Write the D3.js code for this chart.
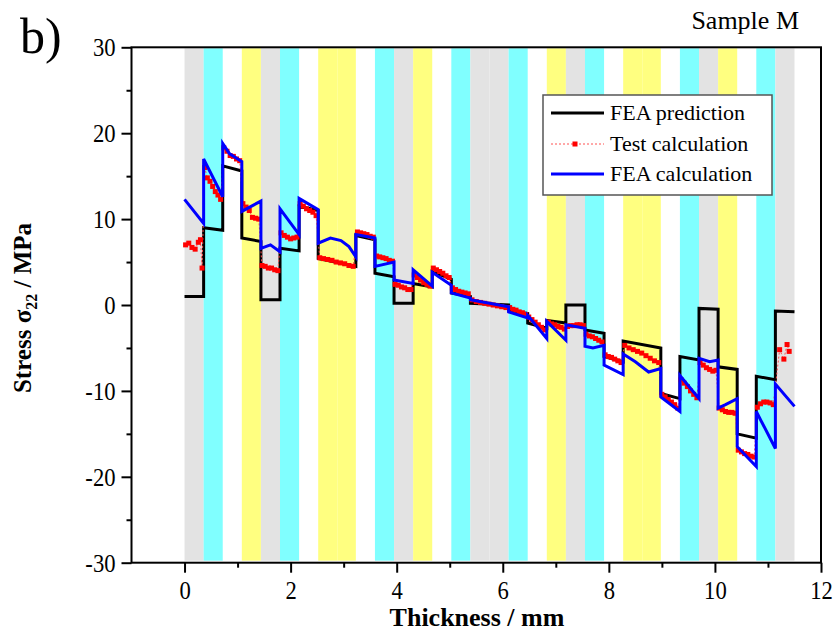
<!DOCTYPE html>
<html>
<head>
<meta charset="utf-8">
<script src="https://cdn.jsdelivr.net/npm/d3@7"></script>
<style>
  body { margin: 0; background: #fff; }
  text { font-family: "Liberation Serif", "Times New Roman", serif; }
</style>
</head>
<body>
<script>
// ply layup: 32 plies, boundaries in mm and band colour per ply
const plyBounds = [0, 0.36, 0.72, 1.08, 1.44, 1.8, 2.16, 2.52, 2.88, 3.23, 3.59, 3.95, 4.31, 4.67, 5.03,
    5.39, 5.75, 6.11, 6.47, 6.83, 7.19, 7.55, 7.91, 8.27, 8.63, 8.98, 9.34, 9.7, 10.06, 10.42, 10.78, 11.14, 11.5];
const plyTypes = ["g", "c", "w", "y", "g", "c", "w", "y", "y", "w", "c", "g", "y", "w", "c", "g",
    "g", "c", "w", "y", "g", "c", "w", "y", "y", "w", "c", "g", "y", "w", "c", "g"];

// FEA prediction (black)
const feaPrediction = [
    [0, 1.0], [0.36, 1.0], [0.36, 9.0], [0.72, 8.7], [0.72, 16.2], [1.08, 15.6],
    [1.08, 7.8], [1.44, 7.4], [1.44, 0.6], [1.8, 0.6], [1.8, 6.6], [2.16, 6.3],
    [2.16, 11.5], [2.52, 11.0], [2.52, 5.4], [3.23, 4.5], [3.23, 8.1], [3.59, 7.6],
    [3.59, 3.7], [3.95, 3.3], [3.95, 0.2], [4.31, 0.2], [4.31, 2.5], [4.67, 2.1],
    [4.67, 3.9], [5.03, 3.0], [5.03, 1.4], [5.39, 1.0], [5.39, 0.2], [6.11, 0.0],
    [6.11, -0.6], [6.47, -1.0], [6.47, -2.1], [6.83, -2.7], [6.83, -1.8], [7.19, -2.1],
    [7.19, 0.0], [7.55, 0.0], [7.55, -2.9], [7.91, -3.3], [7.91, -6.0], [8.27, -6.6],
    [8.27, -4.2], [8.98, -5.0], [8.98, -10.3], [9.34, -10.9], [9.34, -6.0], [9.7, -6.4],
    [9.7, -0.4], [10.06, -0.5], [10.06, -7.2], [10.42, -7.5], [10.42, -15.0], [10.78, -15.5],
    [10.78, -8.3], [11.14, -8.7], [11.14, -0.7], [11.5, -0.8]
];

// FEA calculation (blue)
const feaCalculation = [
    [0, 12.3], [0.36, 9.5], [0.36, 17.0], [0.72, 12.6], [0.72, 18.8], [0.85, 17.6], [1.08, 16.7],
    [1.08, 10.9], [1.44, 12.1], [1.44, 6.6], [1.62, 7.0], [1.8, 6.2], [1.8, 11.2], [2.16, 8.2],
    [2.16, 12.4], [2.52, 11.1], [2.52, 7.2], [2.75, 7.8], [2.95, 7.5], [3.1, 6.8], [3.23, 5.6],
    [3.23, 8.2], [3.59, 7.8], [3.59, 4.5], [3.95, 5.0], [3.95, 2.9], [4.31, 2.5],
    [4.31, 4.1], [4.67, 2.2], [4.67, 3.8], [5.03, 2.3], [5.03, 1.4], [5.39, 0.8],
    [5.39, 0.6], [6.11, -0.2], [6.11, -0.8], [6.47, -1.5], [6.47, -1.2], [6.83, -3.9],
    [6.83, -1.9], [7.19, -4.1], [7.19, -2.3], [7.55, -2.7], [7.55, -4.8], [7.7, -5.0], [7.91, -4.7],
    [7.91, -7.0], [8.27, -8.1], [8.27, -5.7], [8.5, -6.6], [8.75, -7.8], [8.98, -7.4],
    [8.98, -10.7], [9.34, -12.4], [9.34, -8.2], [9.7, -10.9], [9.7, -6.2], [9.9, -6.6], [10.06, -6.4],
    [10.06, -12.0], [10.2, -11.6], [10.42, -10.9], [10.42, -16.5], [10.78, -18.8],
    [10.78, -12.4], [11.14, -16.7], [11.14, -9.2], [11.5, -11.8]
];

// Test calculation (red squares)
const testCalculation = [
    [0.02, 7.0], [0.08, 7.2], [0.14, 6.7], [0.2, 6.5], [0.26, 7.3], [0.3, 7.6], [0.33, 4.3],
    [0.38, 16.0], [0.43, 14.8], [0.48, 14.4], [0.53, 13.8], [0.58, 13.2], [0.63, 12.8], [0.68, 12.3],
    [0.74, 18.3], [0.8, 17.9], [0.86, 17.4], [0.92, 17.3], [0.98, 17.0], [1.04, 16.8],
    [1.1, 11.8], [1.16, 11.4], [1.22, 11.0], [1.28, 10.2], [1.34, 10.1], [1.4, 10.0],
    [1.46, 4.6], [1.52, 4.5], [1.58, 4.3], [1.64, 4.3], [1.7, 4.1], [1.76, 4.0],
    [1.82, 8.4], [1.88, 8.1], [1.94, 7.9], [2.0, 7.7], [2.06, 7.8], [2.12, 7.9],
    [2.18, 11.8], [2.24, 11.5], [2.3, 11.2], [2.36, 11.0], [2.42, 10.8], [2.48, 10.4],
    [2.55, 5.5], [2.62, 5.4], [2.7, 5.3], [2.78, 5.2], [2.86, 5.0], [2.94, 4.9], [3.02, 4.8], [3.1, 4.6], [3.18, 4.5],
    [3.26, 8.5], [3.32, 8.4], [3.38, 8.3], [3.44, 8.2], [3.5, 8.0], [3.56, 7.9],
    [3.62, 5.7], [3.68, 5.6], [3.74, 5.5], [3.8, 5.4], [3.86, 5.2], [3.92, 5.1],
    [3.97, 2.4], [4.03, 2.3], [4.09, 2.1], [4.15, 2.0], [4.21, 1.8], [4.27, 1.8],
    [4.33, 3.5], [4.39, 3.2], [4.45, 2.9], [4.51, 2.6], [4.57, 2.4], [4.63, 2.2],
    [4.69, 4.3], [4.75, 4.1], [4.81, 3.9], [4.87, 3.7], [4.93, 3.4], [4.99, 3.2],
    [5.05, 2.0], [5.11, 1.8], [5.17, 1.6], [5.23, 1.5], [5.29, 1.4], [5.35, 1.3],
    [5.42, 0.6], [5.5, 0.4], [5.58, 0.3], [5.66, 0.2], [5.74, 0.1], [5.82, 0.0], [5.9, -0.1], [5.98, -0.2], [6.06, -0.3],
    [6.13, -0.3], [6.19, -0.5], [6.25, -0.6], [6.31, -0.8], [6.37, -0.9], [6.43, -1.1],
    [6.49, -1.4], [6.55, -1.7], [6.61, -2.0], [6.67, -2.3], [6.73, -2.6], [6.79, -2.9],
    [6.86, -2.0], [6.92, -2.2], [6.98, -2.3], [7.04, -2.5], [7.1, -2.6], [7.16, -2.8],
    [7.22, -2.5], [7.28, -2.4], [7.34, -2.4], [7.4, -2.3], [7.46, -2.3], [7.52, -2.4],
    [7.57, -3.4], [7.63, -3.6], [7.69, -3.7], [7.75, -3.9], [7.81, -4.1], [7.87, -4.3],
    [7.93, -5.8], [7.99, -6.0], [8.05, -6.1], [8.11, -6.3], [8.17, -6.5], [8.23, -6.7],
    [8.3, -4.7], [8.38, -5.0], [8.46, -5.2], [8.54, -5.4], [8.62, -5.6], [8.7, -5.9], [8.78, -6.2], [8.86, -6.5], [8.94, -6.7],
    [9.0, -10.4], [9.06, -10.7], [9.12, -11.0], [9.18, -11.3], [9.24, -11.6], [9.3, -12.0],
    [9.36, -8.7], [9.42, -9.1], [9.48, -9.5], [9.54, -10.0], [9.6, -10.4], [9.66, -10.8],
    [9.72, -6.7], [9.78, -7.0], [9.84, -7.3], [9.9, -7.5], [9.96, -7.7], [10.02, -7.6],
    [10.08, -12.0], [10.14, -12.2], [10.2, -12.4], [10.26, -12.5], [10.32, -12.5], [10.38, -12.6],
    [10.44, -16.9], [10.5, -17.1], [10.56, -17.3], [10.62, -17.4], [10.68, -17.6], [10.74, -17.7],
    [10.8, -11.9], [10.86, -11.5], [10.92, -11.3], [10.98, -11.3], [11.04, -11.4], [11.1, -11.6],
    [11.22, -5.2], [11.3, -6.3], [11.36, -4.6], [11.4, -5.4]
];

const xMajor = [0, 2, 4, 6, 8, 10, 12];
const xMinor = [1, 3, 5, 7, 9, 11];
const yMajor = [-30, -20, -10, 0, 10, 20, 30];
const yMinor = [-25, -15, -5, 5, 15, 25];

const legendItems = ["FEA prediction", "Test calculation", "FEA calculation"];

const bandColor = { g: "#e3e3e3", c: "#80ffff", y: "#ffff80", w: "none" };
const serif = "'Liberation Serif', 'Times New Roman', serif";

const width = 837, height = 632;
const svg = d3.select("body").append("svg")
    .attr("width", width)
    .attr("height", height);

const x = d3.scaleLinear().domain([-1, 12]).range([131.5, 821]);
const y = d3.scaleLinear().domain([-30, 30]).range([562.7, 47.3]);

// ply bands
svg.append("g").selectAll("rect")
    .data(plyTypes)
    .join("rect")
    .attr("x", (d, i) => x(plyBounds[i]))
    .attr("width", (d, i) => x(plyBounds[i + 1]) - x(plyBounds[i]))
    .attr("y", y(30) + 1)
    .attr("height", y(-30) - y(30) - 3)
    .attr("fill", d => bandColor[d]);

const line = d3.line().x(d => x(d[0])).y(d => y(d[1]));

svg.append("path")
    .datum(feaPrediction)
    .attr("d", line)
    .attr("fill", "none")
    .attr("stroke", "#000")
    .attr("stroke-width", 3);

svg.append("path")
    .datum(testCalculation)
    .attr("d", line)
    .attr("fill", "none")
    .attr("stroke", "#ff5050")
    .attr("stroke-width", 1)
    .attr("stroke-dasharray", "2,2");

svg.append("g").selectAll("rect")
    .data(testCalculation)
    .join("rect")
    .attr("x", d => x(d[0]) - 2.5)
    .attr("y", d => y(d[1]) - 2.5)
    .attr("width", 5)
    .attr("height", 5)
    .attr("fill", "#ff0000");

svg.append("path")
    .datum(feaCalculation)
    .attr("d", line)
    .attr("fill", "none")
    .attr("stroke", "#0000ff")
    .attr("stroke-width", 3);

// frame
svg.append("rect")
    .attr("x", x(-1)).attr("y", y(30))
    .attr("width", x(12) - x(-1)).attr("height", y(-30) - y(30))
    .attr("fill", "none").attr("stroke", "#000").attr("stroke-width", 2);

// axes (tick labels a bit condensed, like the original Times rendering)
const squeeze = 0.87;
function styleAxis(g) {
    g.attr("font-family", null);
    g.select(".domain").remove();
    g.selectAll("line").attr("stroke", "#000").attr("stroke-width", 2);
    g.selectAll("text")
        .style("font-family", serif)
        .style("font-size", "26px")
        .attr("fill", "#000")
        .attr("x", function() { return +d3.select(this).attr("x") / squeeze; })
        .attr("transform", `scale(${squeeze},1)`);
}

const tickText = d => String(d);

svg.append("g")
    .attr("transform", `translate(0,${y(-30)})`)
    .call(d3.axisBottom(x).tickValues(xMajor).tickSize(10).tickPadding(8).tickFormat(tickText))
    .call(styleAxis);
svg.append("g")
    .attr("transform", `translate(0,${y(-30)})`)
    .call(d3.axisBottom(x).tickValues(xMinor).tickSize(5).tickFormat(""))
    .call(styleAxis);

svg.append("g")
    .attr("transform", `translate(${x(-1)},0)`)
    .call(d3.axisLeft(y).tickValues(yMajor).tickSize(10).tickPadding(6).tickFormat(tickText))
    .call(styleAxis);
svg.append("g")
    .attr("transform", `translate(${x(-1)},0)`)
    .call(d3.axisLeft(y).tickValues(yMinor).tickSize(5).tickFormat(""))
    .call(styleAxis);

// axis titles
svg.append("text")
    .attr("x", 477).attr("y", 626)
    .attr("text-anchor", "middle")
    .style("font-family", serif)
    .attr("font-size", 26).attr("font-weight", "bold")
    .text("Thickness / mm");

const yt = svg.append("text")
    .attr("transform", "translate(31,308) rotate(-90)")
    .attr("text-anchor", "middle")
    .style("font-family", serif)
    .attr("font-size", 25).attr("font-weight", "bold");
yt.append("tspan").text("Stress σ");
yt.append("tspan").attr("font-size", 16).attr("dy", 6).text("22");
yt.append("tspan").attr("dy", -6).text(" / MPa");

svg.append("text")
    .attr("x", 20).attr("y", 53)
    .style("font-family", serif)
    .attr("font-size", 50)
    .text("b)");

svg.append("text")
    .attr("x", 799).attr("y", 29)
    .attr("text-anchor", "end")
    .style("font-family", serif)
    .attr("font-size", 26)
    .text("Sample M");

// legend
const lg = svg.append("g");
lg.append("rect")
    .attr("x", 543).attr("y", 95).attr("width", 229).attr("height", 100)
    .attr("fill", "#fff").attr("stroke", "#555").attr("stroke-width", 1.5);
const rowY = [113, 144, 174];
lg.append("line").attr("x1", 551).attr("x2", 604).attr("y1", rowY[0]).attr("y2", rowY[0])
    .attr("stroke", "#000").attr("stroke-width", 3);
lg.append("line").attr("x1", 551).attr("x2", 604).attr("y1", rowY[1]).attr("y2", rowY[1])
    .attr("stroke", "#ff5050").attr("stroke-width", 1).attr("stroke-dasharray", "2,2");
lg.append("rect").attr("x", 572.5).attr("y", rowY[1] - 2.5).attr("width", 5).attr("height", 5)
    .attr("fill", "#ff0000");
lg.append("line").attr("x1", 551).attr("x2", 604).attr("y1", rowY[2]).attr("y2", rowY[2])
    .attr("stroke", "#0000ff").attr("stroke-width", 3);
lg.selectAll("text.lab")
    .data(legendItems)
    .join("text")
    .attr("class", "lab")
    .attr("x", 610)
    .attr("y", (d, i) => rowY[i] + 7)
    .style("font-family", serif)
    .attr("font-size", 22)
    .text(d => d);
</script>
</body>
</html>
